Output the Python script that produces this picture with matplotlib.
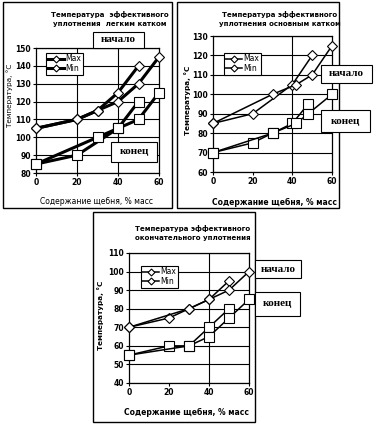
import matplotlib
matplotlib.use("Agg")
import matplotlib.pyplot as plt
from matplotlib.patches import Rectangle

# =====================================
# DATA
# =====================================

x_ticks = [0, 20, 40, 60]

# panel 1 - light roller
p1_start_max_x = [0, 20, 30, 40, 50]
p1_start_max_y = [105, 110, 115, 125, 140]
p1_start_min_x = [0, 20, 30, 40, 50, 60]
p1_start_min_y = [105, 110, 115, 120, 130, 145]
p1_end_max_x = [0, 20, 40, 50]
p1_end_max_y = [85, 90, 105, 120]
p1_end_min_x = [0, 30, 40, 50, 60]
p1_end_min_y = [85, 100, 105, 110, 125]

# panel 2 - main roller
p2_start_max_x = [0, 20, 40, 50]
p2_start_max_y = [85, 90, 105, 120]
p2_start_min_x = [0, 30, 42, 50, 60]
p2_start_min_y = [85, 100, 105, 110, 125]
p2_end_max_x = [0, 20, 30, 40, 48]
p2_end_max_y = [70, 75, 80, 85, 95]
p2_end_min_x = [0, 30, 42, 48, 60]
p2_end_min_y = [70, 80, 85, 90, 100]

# panel 3 - final compaction
p3_start_max_x = [0, 20, 30, 40, 50]
p3_start_max_y = [70, 75, 80, 85, 95]
p3_start_min_x = [0, 30, 40, 50, 60]
p3_start_min_y = [70, 80, 85, 90, 100]
p3_end_max_x = [0, 20, 30, 40, 50]
p3_end_max_y = [55, 60, 60, 70, 80]
p3_end_min_x = [0, 30, 40, 50, 60]
p3_end_min_y = [55, 60, 65, 75, 85]

titles = ["Температура  эффективного\nуплотнения  легким катком",
          "Температура эффективного\nуплотнения основным катком",
          "Температура эффективного\nокончательного уплотнения"]
x_label = "Содержание щебня, % масс"
y_label = "Температура, °С"

# =====================================
# LAYOUT HELPERS (pixels)
# =====================================

W, H = 375, 426
fig = plt.figure(figsize=(W / 100, H / 100), dpi=100)
fig.patch.set_facecolor("white")


def rect(x0, y0, x1, y1):
    return [x0 / W, 1 - y1 / H, (x1 - x0) / W, (y1 - y0) / H]


def fx(x):
    return x / W


def fy(y):
    return 1 - y / H


def frame(x0, y0, x1, y1):
    fig.patches.append(Rectangle((fx(x0), fy(y1)), (x1 - x0) / W, (y1 - y0) / H,
                                 transform=fig.transFigure, fill=False,
                                 edgecolor="black", linewidth=1.0, zorder=0))


def tag(x0, y0, x1, y1, text):
    fig.patches.append(Rectangle((fx(x0), fy(y1)), (x1 - x0) / W, (y1 - y0) / H,
                                 transform=fig.transFigure, facecolor="white",
                                 edgecolor="black", linewidth=0.8, zorder=5))
    fig.text(fx((x0 + x1) / 2), fy((y0 + y1) / 2), text, ha="center", va="center",
             family="Liberation Serif", weight="bold", fontsize=8, zorder=6)


def panel(box, ylim, series, lw, legend_xy, vgrid):
    ax = fig.add_axes(rect(*box))
    ax.set_xlim(0, 60)
    ax.set_ylim(*ylim)
    ax.set_xticks(x_ticks)
    ax.set_yticks(range(ylim[0], ylim[1] + 1, 10))
    ax.tick_params(labelsize=5.5, length=2, width=0.8, pad=1.5)
    for lab in ax.get_xticklabels() + ax.get_yticklabels():
        lab.set_fontweight("bold")
    ax.yaxis.grid(True, color="black", linewidth=0.8)
    for v in vgrid:
        ax.axvline(v, color="black", linewidth=0.8, zorder=1)
    for sp in ax.spines.values():
        sp.set_linewidth(0.9)
    (smx, smy), (snx, sny), (emx, emy), (enx, eny) = series
    l1, = ax.plot(smx, smy, color="black", lw=lw, marker="D", ms=5,
                  mfc="white", mec="black", mew=0.8, zorder=3, clip_on=False)
    l2, = ax.plot(snx, sny, color="black", lw=lw, marker="D", ms=5,
                  mfc="white", mec="black", mew=0.8, zorder=3, clip_on=False)
    ax.plot(emx, emy, color="black", lw=lw, marker="s", ms=7.5,
            mfc="white", mec="black", mew=0.8, zorder=3, clip_on=False)
    ax.plot(enx, eny, color="black", lw=lw, marker="s", ms=7.5,
            mfc="white", mec="black", mew=0.8, zorder=3, clip_on=False)
    leg = ax.legend([l1, l2], ["Max", "Min"], loc="upper left",
                    bbox_to_anchor=(fx(legend_xy[0]), fy(legend_xy[1])),
                    bbox_transform=fig.transFigure, fontsize=5.5, fancybox=False,
                    edgecolor="black", framealpha=1, borderpad=0.2,
                    handlelength=2.2, handletextpad=0.2, labelspacing=0.1,
                    markerscale=0.7)
    leg.get_frame().set_linewidth(0.8)
    return ax


# =====================================
# PANEL 1
# =====================================

frame(3, 2, 172, 208)
ax1 = panel((36, 48, 159, 173), (80, 150),
            [(p1_start_max_x, p1_start_max_y), (p1_start_min_x, p1_start_min_y),
             (p1_end_max_x, p1_end_max_y), (p1_end_min_x, p1_end_min_y)],
            2.2, (42, 49), [20, 40])
fig.text(fx(110), fy(19), titles[0], ha="center", va="center", fontsize=5,
         weight="bold", linespacing=1.5)
fig.text(fx(97), fy(202), x_label, ha="center", va="center", fontsize=5.5)
fig.text(fx(10), fy(95), y_label, ha="center", va="center", fontsize=5.2,
         rotation=90)
tag(93, 32, 144, 48, "начало")
tag(111, 142, 157, 162, "конец")

# =====================================
# PANEL 2
# =====================================

frame(177, 2, 339, 208)
ax2 = panel((213, 36, 332, 172), (60, 130),
            [(p2_start_max_x, p2_start_max_y), (p2_start_min_x, p2_start_min_y),
             (p2_end_max_x, p2_end_max_y), (p2_end_min_x, p2_end_min_y)],
            1.1, (220, 49), [40])
fig.text(fx(280), fy(19), titles[1], ha="center", va="center", fontsize=5,
         weight="bold", linespacing=1.5)
fig.text(fx(275), fy(202), x_label, ha="center", va="center", fontsize=5.5,
         weight="bold")
fig.text(fx(188), fy(100), y_label, ha="center", va="center", fontsize=5.2,
         weight="bold", rotation=90)
tag(321, 65, 372, 83, "начало")
tag(321, 110, 370, 132, "конец")

# =====================================
# PANEL 3
# =====================================

frame(93, 212, 255, 422)
ax3 = panel((129, 253, 249, 383), (40, 110),
            [(p3_start_max_x, p3_start_max_y), (p3_start_min_x, p3_start_min_y),
             (p3_end_max_x, p3_end_max_y), (p3_end_min_x, p3_end_min_y)],
            1.1, (137, 262), [40])
fig.text(fx(193), fy(233), titles[2], ha="center", va="center", fontsize=5,
         weight="bold", linespacing=1.5)
fig.text(fx(187), fy(412), x_label, ha="center", va="center", fontsize=5.5,
         weight="bold")
fig.text(fx(101), fy(315), y_label, ha="center", va="center", fontsize=5.2,
         weight="bold", rotation=90)
tag(255, 260, 301, 278, "начало")
tag(255, 292, 300, 316, "конец")

plt.savefig("out.png", dpi=100)
